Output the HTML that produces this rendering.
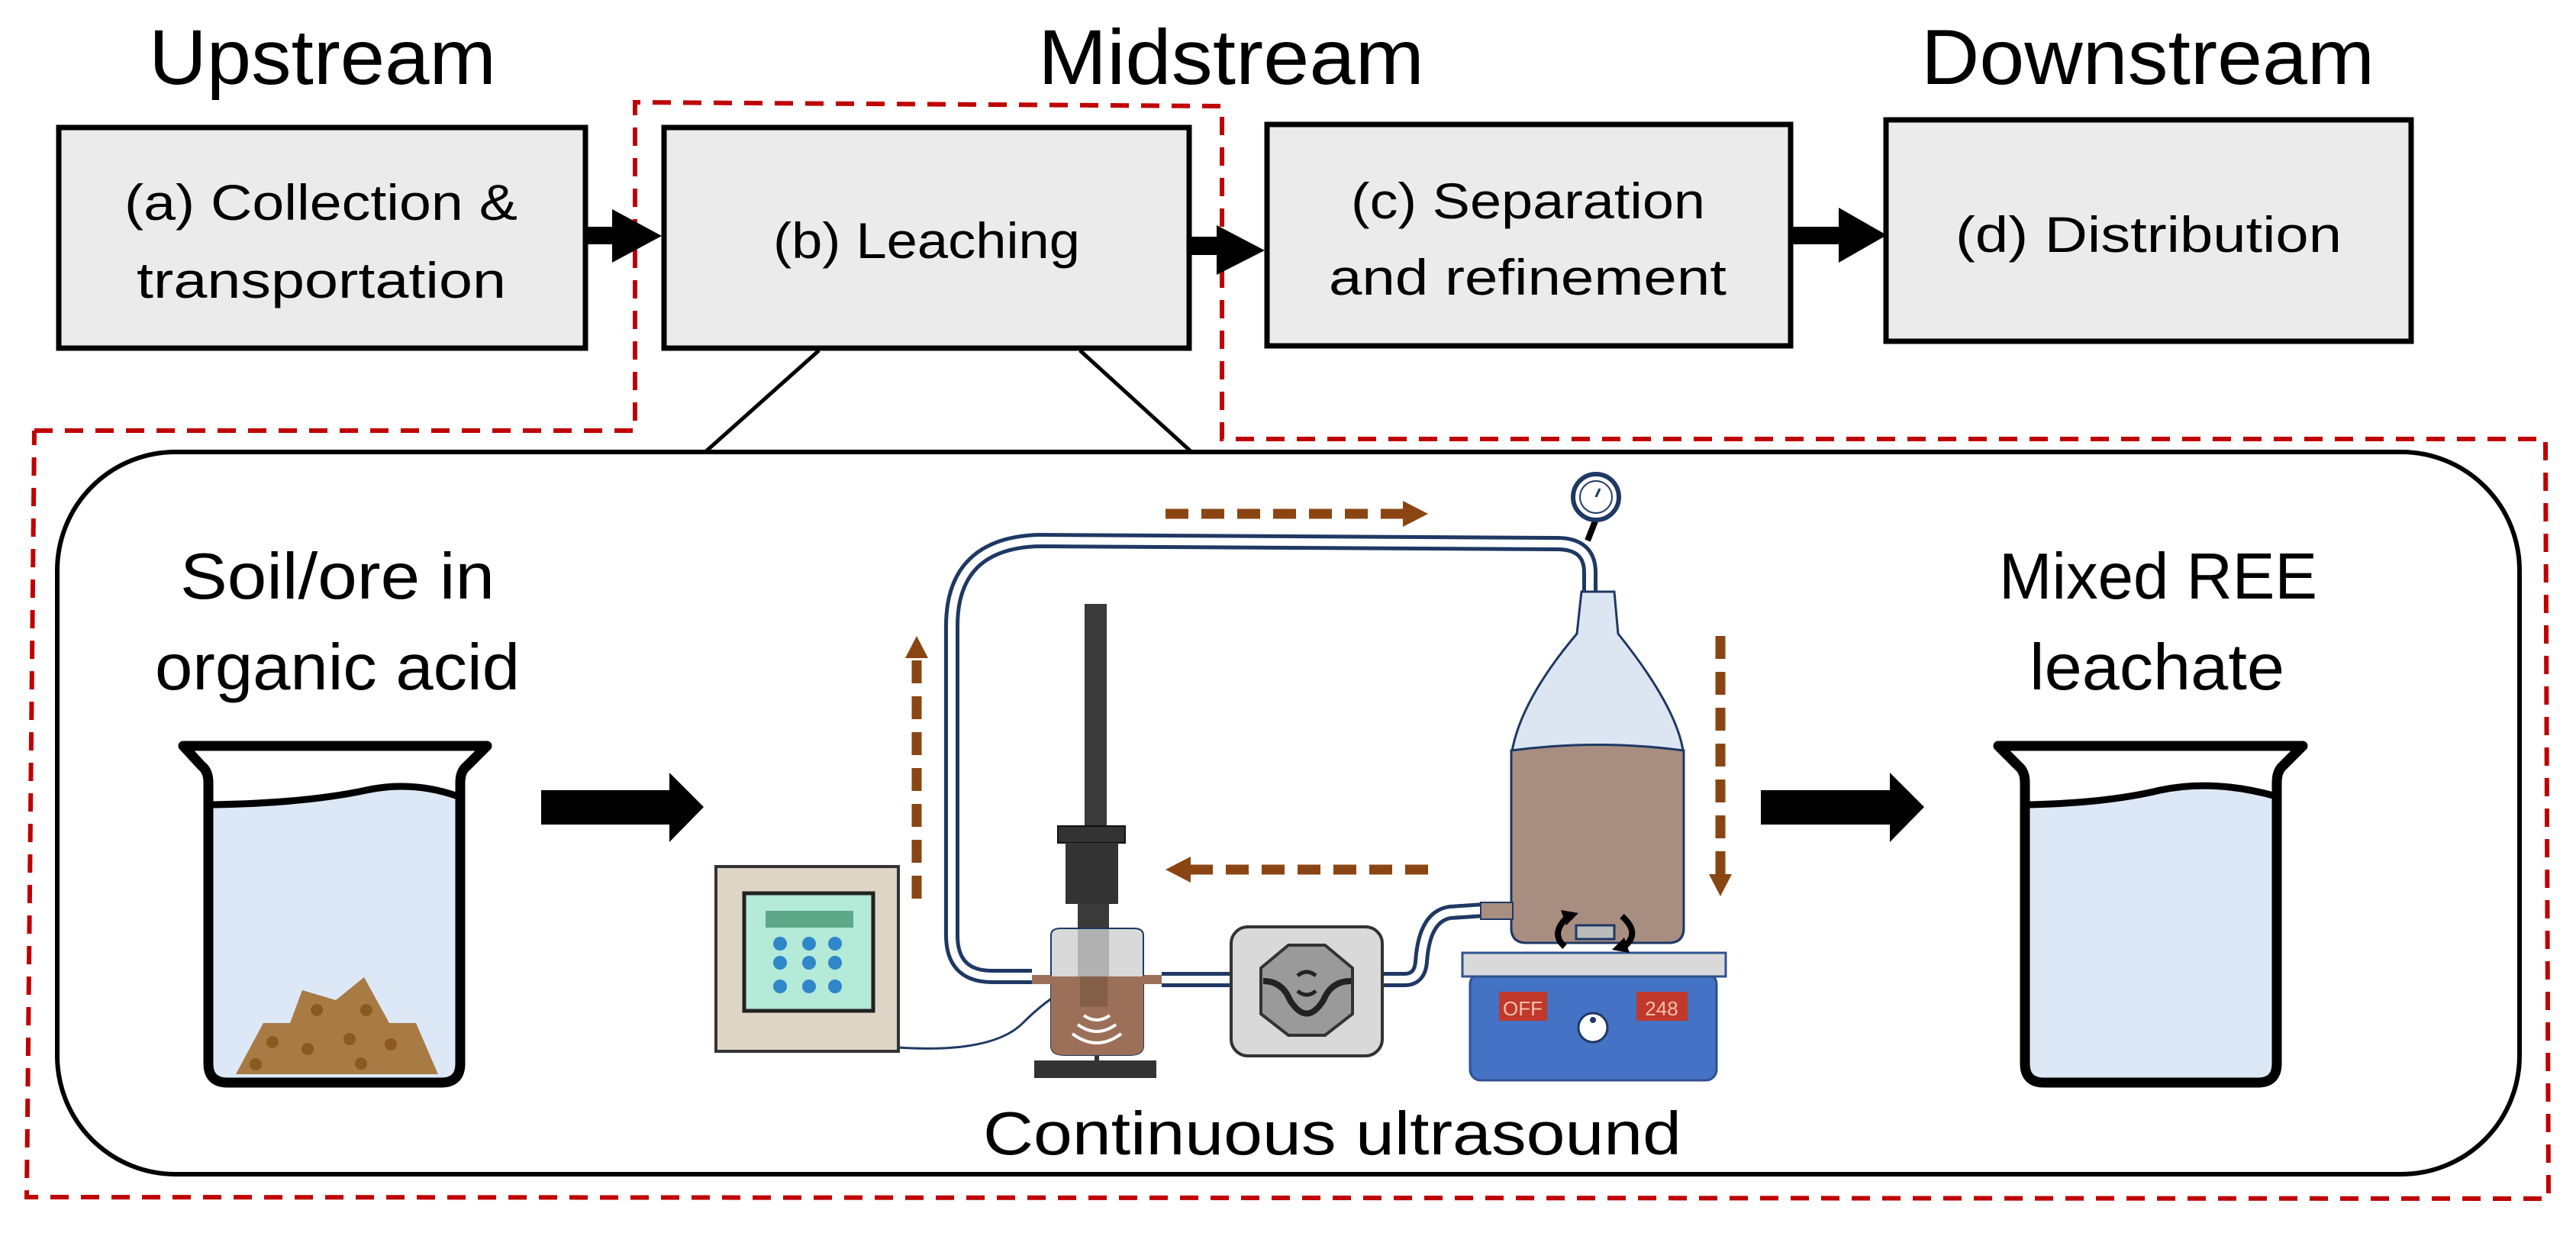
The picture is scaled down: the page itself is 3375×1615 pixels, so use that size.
<!DOCTYPE html>
<html><head><meta charset="utf-8"><style>html,body{margin:0;padding:0;background:#fff}svg{display:block}</style></head>
<body>
<svg width="3375" height="1615" viewBox="0 0 3375 1615" xmlns="http://www.w3.org/2000/svg" font-family="'Liberation Sans', sans-serif">
<rect width="3375" height="1615" fill="#fff"/>
<g font-size="102" fill="#000">
<text x="195" y="110" textLength="455" lengthAdjust="spacingAndGlyphs">Upstream</text>
<text x="1360" y="110" textLength="506" lengthAdjust="spacingAndGlyphs">Midstream</text>
<text x="2517" y="110" textLength="594" lengthAdjust="spacingAndGlyphs">Downstream</text>
</g>
<g fill="none" stroke="#c00000" stroke-width="6" stroke-dasharray="24,16">
<path d="M45,564 L832,564 L832,134 L1601,139 L1601,575 L3335,575 L3339,1570 L35,1568 L45,564"/>
</g>
<g fill="#ebebeb" stroke="#000" stroke-width="7">
<rect x="77" y="167" width="690" height="289"/>
<rect x="870" y="167" width="688" height="289"/>
<rect x="1660" y="163" width="686" height="290"/>
<rect x="2471" y="157" width="688" height="290"/>
</g>
<g font-size="66" fill="#000">
<text x="163" y="288" textLength="515" lengthAdjust="spacingAndGlyphs">(a) Collection &amp;</text>
<text x="179" y="390" textLength="484" lengthAdjust="spacingAndGlyphs">transportation</text>
<text x="1013" y="338" textLength="402" lengthAdjust="spacingAndGlyphs">(b) Leaching</text>
<text x="1770" y="286" textLength="464" lengthAdjust="spacingAndGlyphs">(c) Separation</text>
<text x="1741" y="386" textLength="521" lengthAdjust="spacingAndGlyphs">and refinement</text>
<text x="2562" y="330" textLength="506" lengthAdjust="spacingAndGlyphs">(d) Distribution</text>
</g>
<g fill="#000">
<polygon points="767,297 802,297 802,274 867,309 802,344 802,320 767,320"/>
<polygon points="1558,310 1594,310 1594,295 1657,328 1594,360 1594,334 1558,334"/>
<polygon points="2349,297 2409,297 2409,272 2472,308 2409,344 2409,320 2349,320"/>
</g>
<g stroke="#000" stroke-width="5">
<line x1="1073" y1="459" x2="924" y2="592"/>
<line x1="1415" y1="459" x2="1561" y2="592"/>
</g>
<rect x="75" y="592" width="3226" height="946" rx="155" ry="155" fill="none" stroke="#000" stroke-width="6"/>
<g font-size="85" fill="#000">
<text x="236" y="784" textLength="412" lengthAdjust="spacingAndGlyphs">Soil/ore in</text>
<text x="203" y="903" textLength="478" lengthAdjust="spacingAndGlyphs">organic acid</text>
<text x="2619" y="784" textLength="417" lengthAdjust="spacingAndGlyphs">Mixed REE</text>
<text x="2659" y="903" textLength="334" lengthAdjust="spacingAndGlyphs">leachate</text>
<text x="1288" y="1512" font-size="80" textLength="915" lengthAdjust="spacingAndGlyphs">Continuous ultrasound</text>
</g>
<path d="M275,1050 Q400,1052 480,1033 Q540,1020 600,1045 L600,1400 Q600,1414 585,1414 L290,1414 Q275,1414 275,1400 Z" fill="#dce8f5"/>
<path d="M309,1407 L345,1340 L380,1340 L396,1297 L440,1310 L477,1280 L510,1340 L545,1340 L574,1407 Z" fill="#a87a44"/>
<g fill="#8b5a1e"><circle cx="415" cy="1323" r="8"/><circle cx="480" cy="1323" r="8"/><circle cx="357" cy="1365" r="8"/><circle cx="403" cy="1374" r="8"/><circle cx="458" cy="1361" r="8"/><circle cx="512" cy="1368" r="8"/><circle cx="335" cy="1394" r="8"/><circle cx="473" cy="1393" r="8"/></g>
<path d="M240,977 L638,977 L612,1003 Q603,1010 603,1025 L603,1393 Q603,1418 578,1418 L298,1418 Q273,1418 273,1393 L273,1025 Q273,1010 264,1003 Z" fill="none" stroke="#000" stroke-width="13" stroke-linejoin="round"/>
<path d="M278,1054 Q400,1052 480,1035 Q540,1022 600,1043" fill="none" stroke="#000" stroke-width="9"/>
<path d="M2653,1050 Q2760,1052 2830,1035 Q2900,1020 2984,1045 L2984,1400 Q2984,1414 2970,1414 L2667,1414 Q2653,1414 2653,1400 Z" fill="#dce8f5"/>
<path d="M2618,977 L3017,977 L2991,1003 Q2983,1010 2983,1025 L2983,1393 Q2983,1418 2958,1418 L2678,1418 Q2653,1418 2653,1393 L2653,1025 Q2653,1010 2644,1003 Z" fill="none" stroke="#000" stroke-width="13" stroke-linejoin="round"/>
<path d="M2656,1054 Q2760,1052 2830,1035 Q2900,1020 2982,1043" fill="none" stroke="#000" stroke-width="9"/>
<polygon points="709,1035 877,1035 877,1012 922,1057 877,1103 877,1080 709,1080" fill="#000"/>
<polygon points="2307,1035 2476,1035 2476,1012 2521,1057 2476,1103 2476,1080 2307,1080" fill="#000"/>
<rect x="938" y="1135" width="239" height="242" fill="#ddd5c6" stroke="#333" stroke-width="4"/>
<rect x="975" y="1170" width="169" height="154" fill="#b3ead8" stroke="#222" stroke-width="5"/>
<rect x="1003" y="1193" width="115" height="22" fill="#5ea88a"/>
<g fill="#2f86c8"><circle cx="1022" cy="1236" r="9"/><circle cx="1060" cy="1236" r="9"/><circle cx="1094" cy="1236" r="9"/><circle cx="1022" cy="1261" r="9"/><circle cx="1060" cy="1261" r="9"/><circle cx="1094" cy="1261" r="9"/><circle cx="1022" cy="1292" r="9"/><circle cx="1060" cy="1292" r="9"/><circle cx="1094" cy="1292" r="9"/></g>
<path d="M1177,1372 Q1300,1380 1340,1340 Q1380,1300 1420,1285" fill="none" stroke="#1f3864" stroke-width="3"/>
<rect x="1421" y="791" width="29" height="291" fill="#3a3a3a"/>
<rect x="1386" y="1082" width="88" height="22" fill="#333" stroke="#111" stroke-width="2"/>
<rect x="1396" y="1104" width="69" height="80" fill="#333"/>
<rect x="1412" y="1184" width="41" height="110" fill="#3a3a3a"/>
<rect x="1355" y="1389" width="160" height="23" fill="#333"/>
<line x1="1437" y1="1380" x2="1437" y2="1389" stroke="#333" stroke-width="6"/>
<path d="M1377,1225 Q1377,1216 1390,1216 L1485,1216 Q1498,1216 1498,1225 L1498,1370 Q1498,1382 1480,1382 L1395,1382 Q1377,1382 1377,1370 Z" fill="#d0d0d0" fill-opacity="0.8" stroke="#1f3864" stroke-width="2"/>
<path d="M1377,1279 L1498,1279 L1498,1370 Q1498,1382 1480,1382 L1395,1382 Q1377,1382 1377,1370 Z" fill="#9c7058"/>
<rect x="1350" y="1277" width="27" height="12" fill="#9c7058"/>
<rect x="1498" y="1277" width="24" height="12" fill="#9c7058"/>
<rect x="1415" y="1279" width="36" height="40" fill="#7a5842" opacity="0.7"/>
<g fill="none" stroke="#fff" stroke-width="4"><path d="M1420,1330 Q1437,1342 1454,1330"/><path d="M1412,1342 Q1437,1360 1462,1342"/><path d="M1405,1354 Q1437,1378 1469,1354"/></g>
<g fill="none" stroke-linejoin="round" stroke-linecap="butt">
<path d="M1352,1279 L1300,1279 Q1247,1279 1247,1225 L1247,820 Q1247,712 1360,708 L2040,712 Q2083,712 2083,750 L2083,983" stroke="#1f3864" stroke-width="20"/>
<path d="M1352,1279 L1300,1279 Q1247,1279 1247,1225 L1247,820 Q1247,712 1360,708 L2040,712 Q2083,712 2083,750 L2083,983" stroke="#fff" stroke-width="10"/>
<path d="M1522,1283 L1840,1283 Q1860,1283 1862,1260 Q1866,1200 1900,1195 L1945,1192" stroke="#1f3864" stroke-width="20"/>
<path d="M1522,1283 L1840,1283 Q1860,1283 1862,1260 Q1866,1200 1900,1195 L1945,1192" stroke="#fff" stroke-width="10"/>
</g>
<rect x="1613" y="1214" width="198" height="169" rx="22" fill="#d9d9d9" stroke="#333" stroke-width="4"/>
<polygon points="1688,1238 1736,1238 1772,1268 1772,1328 1736,1356 1688,1356 1652,1328 1652,1268" fill="#9a9a9a" stroke="#333" stroke-width="4"/>
<path d="M1655,1285 Q1680,1285 1690,1310 Q1712,1345 1734,1310 Q1744,1285 1770,1285" fill="none" stroke="#222" stroke-width="8"/>
<path d="M1700,1278 Q1712,1268 1724,1278 M1700,1298 Q1712,1308 1724,1298" fill="none" stroke="#222" stroke-width="5"/>
<rect x="1926" y="1275" width="323" height="140" rx="14" fill="#4472c4" stroke="#2f528f" stroke-width="3"/>
<rect x="1916" y="1248" width="345" height="31" fill="#d9d9d9" stroke="#2f528f" stroke-width="3"/>
<rect x="1964" y="1299" width="63" height="38" fill="#c0392b"/>
<rect x="2144" y="1299" width="67" height="38" fill="#c0392b"/>
<text x="1995" y="1330" font-size="26" fill="#f4c0b0" text-anchor="middle">OFF</text>
<text x="2177" y="1330" font-size="26" fill="#f4c0b0" text-anchor="middle">248</text>
<circle cx="2087" cy="1346" r="19" fill="#fff" stroke="#1f3864" stroke-width="3"/>
<circle cx="2087" cy="1336" r="4" fill="#1f3864"/>
<path d="M2072,775 L2115,775 L2120,830 Q2200,930 2206,990 L2206,1215 Q2206,1235 2186,1235 L2000,1235 Q1980,1235 1980,1215 L1980,990 Q1990,920 2066,830 Z" fill="#dce6f2" stroke="#1f3864" stroke-width="3"/>
<path d="M1980,983 Q2093,968 2206,983 L2206,1215 Q2206,1235 2186,1235 L2000,1235 Q1980,1235 1980,1215 Z" fill="#a88e80" stroke="#1f3864" stroke-width="3"/>
<rect x="1940" y="1182" width="42" height="22" fill="#a88e80" stroke="#1f3864" stroke-width="2"/>
<rect x="2065" y="1212" width="50" height="18" fill="#bbb" stroke="#1f3864" stroke-width="3"/>
<path d="M2055,1200 Q2030,1222 2050,1240" fill="none" stroke="#000" stroke-width="8"/>
<polygon points="2045,1192 2068,1196 2052,1212" fill="#000"/>
<path d="M2125,1200 Q2150,1222 2128,1240" fill="none" stroke="#000" stroke-width="8"/>
<polygon points="2135,1248 2112,1244 2128,1228" fill="#000"/>
<line x1="2080" y1="708" x2="2091" y2="680" stroke="#000" stroke-width="8"/>
<circle cx="2091" cy="651" r="30" fill="#fff" stroke="#1f3864" stroke-width="6"/>
<circle cx="2091" cy="651" r="21" fill="none" stroke="#1f3864" stroke-width="2"/>
<line x1="2091" y1="651" x2="2096" y2="640" stroke="#1f3864" stroke-width="3"/>
<g stroke="#8b4513" stroke-width="13" stroke-dasharray="30,17" fill="none">
<line x1="1527" y1="673" x2="1840" y2="673"/>
<line x1="1871" y1="1139" x2="1560" y2="1139"/>
<line x1="1201" y1="1177" x2="1201" y2="860"/>
<line x1="2254" y1="833" x2="2254" y2="1145"/>
</g>
<g fill="#8b4513">
<polygon points="1838,656 1871,673 1838,690"/>
<polygon points="1560,1122 1527,1139 1560,1156"/>
<polygon points="1186,862 1201,833 1216,862"/>
<polygon points="2239,1145 2254,1174 2269,1145"/>
</g>
</svg>
</body></html>
